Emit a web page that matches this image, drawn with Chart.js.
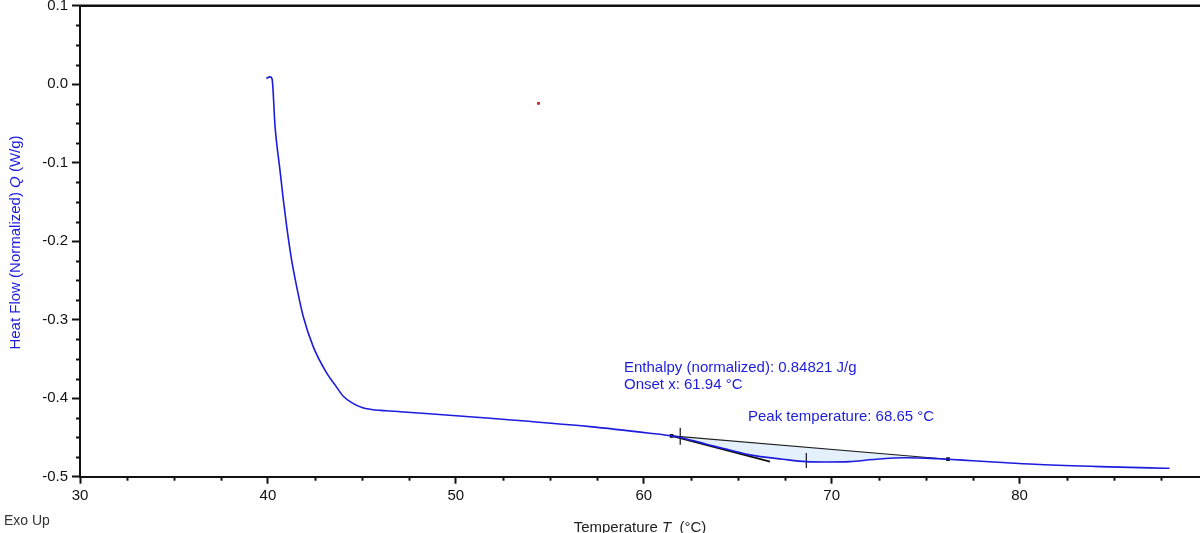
<!DOCTYPE html>
<html><head><meta charset="utf-8">
<script src="https://cdn.jsdelivr.net/npm/chart.js@4.4.1/dist/chart.umd.min.js"></script>
<style>html,body{margin:0;padding:0;background:#fff;overflow:hidden}</style>
</head><body>
<canvas id="c" width="1200" height="533"></canvas>
<script>
// ---- data ----
const tempC = [39.92,40.11,40.22,40.38,40.64,40.82,41.00,41.26,41.53,41.88,42.41,43.13,43.60,44.01,44.50,45.00,45.50,46.00,46.50,47.03,51.82,57.14,60.33,61.48,61.94,62.98,63.78,64.57,65.64,67.40,68.65,69.70,70.96,72.20,73.97,75.00,76.19,77.50,79.30,81.06,84.26,86.91,87.98];
const heatFlow = [0.0074,0.0093,0.0068,-0.0540,-0.1092,-0.1473,-0.1814,-0.2238,-0.2578,-0.2960,-0.3343,-0.3681,-0.3840,-0.3975,-0.4063,-0.4118,-0.4143,-0.4155,-0.4163,-0.4172,-0.4255,-0.4362,-0.4446,-0.4480,-0.4500,-0.4563,-0.4614,-0.4659,-0.4722,-0.4777,-0.4808,-0.4812,-0.4808,-0.4780,-0.4758,-0.4764,-0.4777,-0.4797,-0.4822,-0.4845,-0.4872,-0.4888,-0.4893];
const baselineT = [61.48, 76.19];
const baselineQ = [-0.4480, -0.4777];
const tangentT = [61.48, 66.72];
const tangentQ = [-0.4480, -0.4808];
const onsetTickT = [61.94, 61.94];
const onsetTickQ = [-0.4377, -0.4594];
const peakTickT = [68.65, 68.65];
const peakTickQ = [-0.4698, -0.4889];
const strayT = [54.4];
const strayQ = [-0.0245];
const xMajorTicks = [30, 40, 50, 60, 70, 80];
const yMajorTicks = [0.1, 0.0, -0.1, -0.2, -0.3, -0.4, -0.5];
const xMinorStep = 2.5;
const yMinorStep = 0.025;
const annotationTexts = ["Enthalpy (normalized): 0.84821 J/g", "Onset x: 61.94 °C", "Peak temperature: 68.65 °C"];

const pts = (xs, ys) => xs.map((x, i) => ({x, y: ys[i]}));
const curvePts = pts(tempC, heatFlow);
const fillPts = curvePts.filter(p => p.x >= baselineT[0] - 1e-9 && p.x <= baselineT[1] + 1e-9);

const BLUE = 'rgb(28,28,222)';
const FONT = '"Liberation Sans", Arial, sans-serif';

const isMajor = (v, list) => list.some(m => Math.abs(m - v) < 1e-6);

const decor = {
  id: 'decor',
  afterDraw(chart) {
    const {ctx, chartArea: a, scales: {x, y}} = chart;
    ctx.save();
    // top frame line
    ctx.strokeStyle = '#111';
    ctx.lineWidth = 2.5;
    ctx.beginPath(); ctx.moveTo(a.left - 1, a.top); ctx.lineTo(1200, a.top); ctx.stroke();
    // minor ticks
    ctx.lineWidth = 2; ctx.strokeStyle = '#111';
    for (let v = 30; v <= x.max + 1e-9; v += xMinorStep) {
      if (isMajor(v, xMajorTicks)) continue;
      const px = Math.round(x.getPixelForValue(v)) + 0.5;
      ctx.beginPath(); ctx.moveTo(px, a.bottom); ctx.lineTo(px, a.bottom + 4); ctx.stroke();
    }
    for (let k = 0; k <= 24; k++) {
      const v = -0.5 + k * yMinorStep;
      if (isMajor(v, yMajorTicks)) continue;
      const py = Math.round(y.getPixelForValue(v)) + 0.5;
      ctx.beginPath(); ctx.moveTo(a.left, py); ctx.lineTo(a.left - 4, py); ctx.stroke();
    }
    // annotations
    ctx.fillStyle = BLUE;
    ctx.font = '15px ' + FONT;
    ctx.textBaseline = 'alphabetic';
    ctx.textAlign = 'left';
    ctx.fillText(annotationTexts[0], 624, 372);
    ctx.fillText(annotationTexts[1], 624, 389);
    ctx.fillText(annotationTexts[2], 748, 421);
    // y title (rotated, mixed italic)
    const yParts = [['Heat Flow (Normalized) ', ''], ['Q', 'italic '], [' (W/g)', '']];
    ctx.save();
    ctx.translate(20, 242.5);
    ctx.rotate(-Math.PI / 2);
    let total = 0;
    yParts.forEach(([t, s]) => { ctx.font = s + '15px ' + FONT; total += ctx.measureText(t).width; });
    let cx = -total / 2;
    yParts.forEach(([t, s]) => { ctx.font = s + '15px ' + FONT; ctx.fillText(t, cx, 0); cx += ctx.measureText(t).width; });
    ctx.restore();
    // x title
    const xParts = [['Temperature ', ''], ['T', 'italic '], ['  (°C)', '']];
    ctx.fillStyle = '#222';
    total = 0;
    xParts.forEach(([t, s]) => { ctx.font = s + '15px ' + FONT; total += ctx.measureText(t).width; });
    cx = (a.left + a.right) / 2 - total / 2;
    xParts.forEach(([t, s]) => { ctx.font = s + '15px ' + FONT; ctx.fillText(t, cx, 532); cx += ctx.measureText(t).width; });
    // Exo Up
    ctx.fillStyle = '#333';
    ctx.font = '14px ' + FONT;
    ctx.fillText('Exo Up', 4, 525);
    ctx.restore();
  }
};

new Chart(document.getElementById('c'), {
  type: 'scatter',
  data: {
    datasets: [
      {data: curvePts, showLine: true, borderColor: BLUE, borderWidth: 1.6, pointRadius: 0, cubicInterpolationMode: 'monotone', fill: false},
      {data: pts(onsetTickT, onsetTickQ), showLine: true, borderColor: '#111', borderWidth: 1.2, pointRadius: 0},
      {data: pts(peakTickT, peakTickQ), showLine: true, borderColor: '#111', borderWidth: 1.2, pointRadius: 0},
      {data: pts(tangentT, tangentQ), showLine: true, borderColor: '#111', borderWidth: 1.6, pointRadius: 0},
      {data: pts(baselineT, baselineQ), showLine: true, borderColor: '#222', borderWidth: 1.1, pointRadius: 1.8, pointStyle: 'rect', pointBackgroundColor: '#111', pointBorderColor: '#111'},
      {data: fillPts, showLine: true, borderWidth: 0, borderColor: 'rgba(0,0,0,0)', pointRadius: 0, cubicInterpolationMode: 'monotone', fill: '-1', backgroundColor: 'rgb(228,241,252)'},
      {data: pts(strayT, strayQ), showLine: false, pointRadius: 2, pointStyle: 'rect', pointBackgroundColor: 'rgb(220,30,30)', pointBorderColor: 'rgb(220,30,30)', borderWidth: 0}
    ]
  },
  options: {
    responsive: false,
    animation: false,
    devicePixelRatio: 1,
    layout: {autoPadding: false, padding: {top: 5.7, right: 0, left: 0, bottom: 0}},
    plugins: {legend: {display: false}, tooltip: {enabled: false}},
    scales: {
      x: {
        type: 'linear', min: 30, max: 89.6,
        afterBuildTicks: s => { const t = []; for (let v = 30; v <= 89.6; v += xMinorStep) t.push({value: v}); s.ticks = t; },
        afterFit: s => { s.height = 533 - 476.7; s.paddingLeft = 0; s.paddingRight = 0; s.paddingTop = 0; s.paddingBottom = 0; },
        border: {display: true, color: '#111', width: 2},
        grid: {display: true, drawOnChartArea: false, drawTicks: true, tickLength: 7, tickWidth: 2,
          tickColor: c => (c.tick && isMajor(c.tick.value, xMajorTicks)) ? '#111' : 'rgba(0,0,0,0)'},
        ticks: {autoSkip: false, maxRotation: 0, padding: 3, color: '#111', font: {family: FONT, size: 15},
          callback: v => isMajor(v, xMajorTicks) ? String(Math.round(v)) : ''}
      },
      y: {
        type: 'linear', min: -0.5, max: 0.1,
        afterBuildTicks: s => { const t = []; for (let k = 0; k <= 24; k++) t.push({value: Math.round((-0.5 + k * yMinorStep) * 1000) / 1000}); s.ticks = t; },
        afterFit: s => { s.width = 80; s.paddingTop = 0; s.paddingBottom = 0; s.paddingLeft = 0; s.paddingRight = 0; },
        border: {display: true, color: '#111', width: 2},
        grid: {display: true, drawOnChartArea: false, drawTicks: true, tickLength: 8, tickWidth: 2,
          tickColor: c => (c.tick && isMajor(c.tick.value, yMajorTicks)) ? '#111' : 'rgba(0,0,0,0)'},
        ticks: {autoSkip: false, padding: 4, color: '#111', font: {family: FONT, size: 15},
          callback: v => isMajor(v, yMajorTicks) ? v.toFixed(1) : ''}
      }
    }
  },
  plugins: [decor]
});
</script>
</body></html>
